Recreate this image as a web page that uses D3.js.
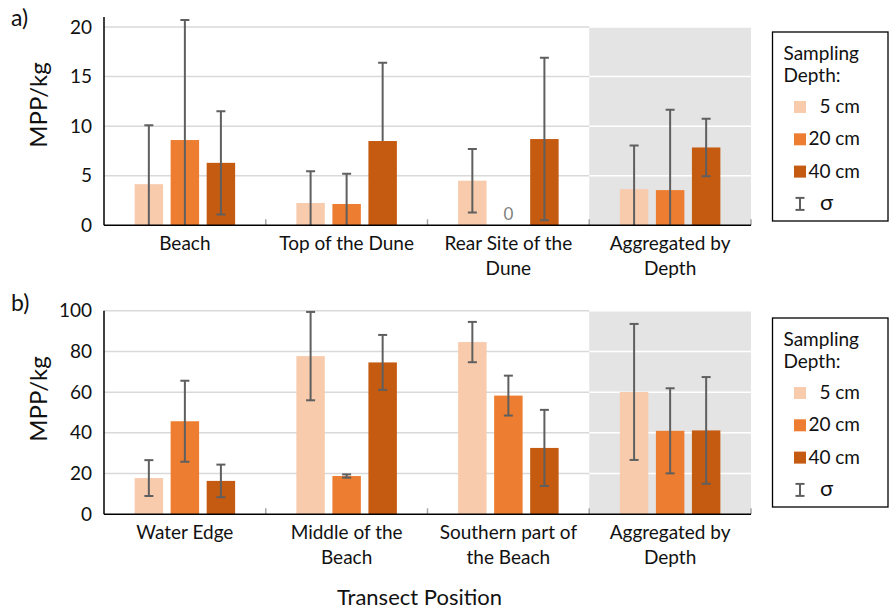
<!DOCTYPE html>
<html lang="en">
<head>
<meta charset="UTF-8">
<title>MPP per kg by transect position</title>
<script src="https://cdn.jsdelivr.net/npm/d3@7"></script>
<style>
  body { margin: 0; background: #fff; }
  text { font-family: Lato, "Open Sans", sans-serif; fill: #111; }
</style>
</head>
<body>
<svg id="chart" width="890" height="613"></svg>
<script>
// sampling depths and colours
const depths = ["5 cm", "20 cm", "40 cm"]
const depthColors = ["#F8CBAD", "#ED7D31", "#C55A11"]

// panel a) categories, means, sigma
const catsA = ["Beach", "Top of the Dune", "Rear Site of the\nDune", "Aggregated by\nDepth"]
const a5 = [4.15, 2.25, 4.5, 3.65]
const a20 = [8.6, 2.15, 0, 3.55]
const a40 = [6.3, 8.5, 8.7, 7.85]
const aSd5 = [5.95, 3.2, 3.2, 4.4]
const aSd20 = [12.1, 3.05, 0, 8.1]
const aSd40 = [5.2, 7.9, 8.2, 2.9]
const aSd40Lower = [5.2, 0, 8.2, 2.9]   // top of the dune only has the + side
const ticksA = [0, 5, 10, 15, 20]

// panel b) categories, means, sigma
const catsB = ["Water Edge", "Middle of the\nBeach", "Southern part of\nthe Beach", "Aggregated by\nDepth"]
const b5 = [17.8, 77.7, 84.6, 60.1]
const b20 = [45.7, 18.8, 58.3, 41.0]
const b40 = [16.4, 74.6, 32.6, 41.2]
const bSd5 = [8.8, 21.7, 9.9, 33.4]
const bSd20 = [19.9, 0.8, 9.8, 20.9]
const bSd40 = [8.0, 13.5, 18.7, 26.2]
const ticksB = [0, 20, 40, 60, 80, 100]

const svg = d3.select("#chart")
const fs = 19

const x0 = d3.scaleBand().domain(d3.range(4)).range([104, 751])
const x1 = d3.scaleBand().domain(depths).range([0, x0.bandwidth()])
                .paddingInner(0.21).paddingOuter(0.85)

function panel(o) {
    const y = d3.scaleLinear().domain([0, o.yMax]).range([o.bottom, o.top])
    const g = svg.append("g")
    const topTick = o.ticks[o.ticks.length - 1]
    const [xl, xr] = x0.range()

    // shaded aggregated column
    g.append("rect")
        .attr("x", x0(3)).attr("width", x0.bandwidth())
        .attr("y", y(topTick)).attr("height", y(0) - y(topTick))
        .attr("fill", "#e4e4e4")

    // gridlines
    const grid = o.ticks.filter(t => t > 0)
    g.selectAll(".gl").data(grid).enter().append("line")
        .attr("x1", xl).attr("x2", x0(3))
        .attr("y1", d => y(d)).attr("y2", d => y(d))
        .attr("stroke", "#d9d9d9").attr("stroke-width", 1.5)
    g.selectAll(".gr").data(grid).enter().append("line")
        .attr("x1", x0(3)).attr("x2", xr)
        .attr("y1", d => y(d)).attr("y2", d => y(d))
        .attr("stroke", "#fff").attr("stroke-width", 1.5)

    // bars
    const rows = []
    o.vals.forEach((arr, di) => arr.forEach((v, ci) => {
        rows.push({ci, d: depths[di], di, v, up: o.sdUp[di][ci], lo: o.sdLo[di][ci]})
    }))
    g.selectAll(".bar").data(rows).enter().append("rect")
        .attr("x", r => x0(r.ci) + x1(r.d))
        .attr("width", x1.bandwidth())
        .attr("y", r => y(r.v))
        .attr("height", r => y(0) - y(r.v))
        .attr("fill", r => depthColors[r.di])

    // error bars, clipped to the plot area
    const clipId = "clip" + o.name
    svg.append("clipPath").attr("id", clipId).append("rect")
        .attr("x", xl - 10).attr("width", xr - xl + 20)
        .attr("y", 0).attr("height", y(0))
    const eb = g.append("g").attr("clip-path", `url(#${clipId})`)
        .attr("stroke", "#5f5f5f").attr("stroke-width", 2)
    const cap = 4.5
    rows.filter(r => r.up > 0).forEach(r => {
        const cx = x0(r.ci) + x1(r.d) + x1.bandwidth() / 2
        const yt = y(r.v + r.up), yb = y(r.v - r.lo)
        eb.append("line").attr("x1", cx).attr("x2", cx).attr("y1", yt).attr("y2", yb)
        eb.append("line").attr("x1", cx - cap).attr("x2", cx + cap).attr("y1", yt).attr("y2", yt)
        if (r.lo > 0)
            eb.append("line").attr("x1", cx - cap).attr("x2", cx + cap).attr("y1", yb).attr("y2", yb)
    })

    // zero label
    g.selectAll(".zero").data(rows.filter(r => r.v === 0)).enter().append("text")
        .attr("x", r => x0(r.ci) + x1(r.d) + x1.bandwidth() / 2)
        .attr("y", y(0) - 5)
        .attr("text-anchor", "middle")
        .style("font-size", "17px").style("fill", "#7f7f7f")
        .text("0")

    // y axis
    const yAxis = d3.axisLeft(y).tickValues(o.ticks).tickSize(0).tickPadding(12)
    const ya = g.append("g").attr("transform", `translate(${xl},0)`).call(yAxis)
    ya.select(".domain").remove()
    ya.selectAll("text").style("font-size", fs + "px").style("font-family", "Lato").attr("fill", "#111")
    g.append("line").attr("x1", xl).attr("x2", xl).attr("y1", o.top).attr("y2", y(0))
        .attr("stroke", "#000").attr("stroke-width", 1.5)

    // category ticks (inside) and x axis line
    const bounds = d3.range(1, 4).map(i => x0(i)).concat([xr])
    g.selectAll(".ct").data(bounds).enter().append("line")
        .attr("x1", d => d).attr("x2", d => d)
        .attr("y1", y(0)).attr("y2", y(0) - 6)
        .attr("stroke", "#a6a6a6").attr("stroke-width", 1.5)
    g.append("line").attr("x1", xl).attr("x2", xr).attr("y1", y(0)).attr("y2", y(0))
        .attr("stroke", "#000").attr("stroke-width", 1.5)

    // category labels
    o.cats.forEach((c, i) => {
        const t = g.append("text")
            .attr("x", x0(i) + x0.bandwidth() / 2)
            .attr("y", y(0) + 25)
            .attr("text-anchor", "middle")
            .style("font-size", fs + "px")
        c.split("\n").forEach((line, k) => {
            t.append("tspan").attr("x", x0(i) + x0.bandwidth() / 2)
                .attr("dy", k === 0 ? 0 : 25).text(line)
        })
    })

    // y title
    g.append("text")
        .attr("transform", `translate(47,${o.titleY}) rotate(-90)`)
        .attr("text-anchor", "middle")
        .style("font-size", "24px")
        .text("MPP/kg")

    // panel letter
    g.append("text").attr("x", 11).attr("y", o.letterY)
        .style("font-size", "23px").text(o.name + ")")

    legend(o.legendTop)
}

function legend(top) {
    const lg = svg.append("g")
    lg.append("rect").attr("x", 772.5).attr("y", top).attr("width", 115.5).attr("height", 189)
        .attr("fill", "#fff").attr("stroke", "#000").attr("stroke-width", 1.3)
    lg.append("text").attr("x", 783.5).attr("y", top + 28).style("font-size", fs + "px").text("Sampling")
    lg.append("text").attr("x", 783.5).attr("y", top + 50).style("font-size", fs + "px").text("Depth:")
    depths.forEach((d, i) => {
        const yy = top + 69 + 32.3 * i
        lg.append("rect").attr("x", 794).attr("y", yy).attr("width", 12).attr("height", 12)
            .attr("fill", depthColors[i])
        lg.append("text").attr("x", 860).attr("y", yy + 12).attr("text-anchor", "end")
            .style("font-size", fs + "px").text(d)
    })
    const sy = top + 69 + 32.3 * 3
    const s = lg.append("g").attr("stroke", "#5f5f5f").attr("stroke-width", 2)
    s.append("line").attr("x1", 800).attr("x2", 800).attr("y1", sy).attr("y2", sy + 12)
    s.append("line").attr("x1", 795.5).attr("x2", 804.5).attr("y1", sy).attr("y2", sy)
    s.append("line").attr("x1", 795.5).attr("x2", 804.5).attr("y1", sy + 12).attr("y2", sy + 12)
    lg.append("text").attr("x", 820).attr("y", sy + 12).style("font-size", "22px").text("σ")
}

panel({
    name: "a", cats: catsA, vals: [a5, a20, a40],
    sdUp: [aSd5, aSd20, aSd40], sdLo: [aSd5, aSd20, aSd40Lower],
    ticks: ticksA, yMax: 21, top: 17.1, bottom: 225.3,
    titleY: 105, letterY: 26, legendTop: 32
})
panel({
    name: "b", cats: catsB, vals: [b5, b20, b40],
    sdUp: [bSd5, bSd20, bSd40], sdLo: [bSd5, bSd20, bSd40],
    ticks: ticksB, yMax: 100, top: 310.7, bottom: 514.3,
    titleY: 399, letterY: 311, legendTop: 318
})

svg.append("text").attr("x", 419.5).attr("y", 605)
    .attr("text-anchor", "middle").style("font-size", "22px")
    .text("Transect Position")
</script>
</body>
</html>
